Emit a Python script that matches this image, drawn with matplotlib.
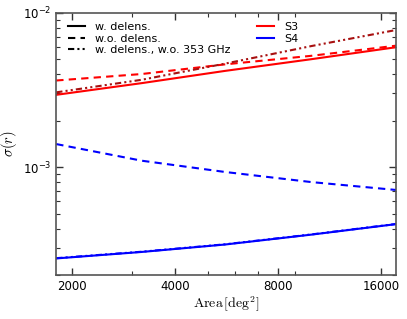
import matplotlib
matplotlib.use('Agg')
import matplotlib.pyplot as plt
from matplotlib.lines import Line2D
from matplotlib.ticker import FixedLocator, FixedFormatter, NullFormatter, LogLocator
import numpy as np

plt.rcParams['mathtext.fontset'] = 'dejavusans'
plt.rcParams['font.family'] = 'DejaVu Sans'

area = [1800, 3200, 5600, 10000, 17700]

s3_delens = [2.94e-3, 3.50e-3, 4.20e-3, 5.00e-3, 5.98e-3]
s3_nodelens = [3.64e-3, 4.01e-3, 4.63e-3, 5.26e-3, 6.12e-3]
s3_no353 = [3.05e-3, 3.68e-3, 4.68e-3, 6.08e-3, 7.73e-3]

s4_delens = [2.56e-4, 2.82e-4, 3.15e-4, 3.65e-4, 4.27e-4]
s4_nodelens = [1.41e-3, 1.10e-3, 9.30e-4, 8.00e-4, 7.11e-4]
s4_no353 = [2.57e-4, 2.83e-4, 3.16e-4, 3.66e-4, 4.28e-4]

xticks = [2000, 4000, 8000, 16000]
style_labels = ['w. delens.', 'w.o. delens.', 'w. delens., w.o. 353 GHz']
exp_labels = ['S3', 'S4']

dashed = (0, (3.5, 2.5))
dashdot = (0, (3.0, 1.5, 1, 1.5, 1, 1.5))
lw = 1.5

fig = plt.figure(figsize=(4.07, 3.19), dpi=100)
ax = fig.add_axes([0.1376, 0.138, 0.8354, 0.822])

ax.plot(area, s4_no353, color='blue', lw=lw, ls=dashdot)
ax.plot(area, s4_delens, color='blue', lw=lw, ls='-')
ax.plot(area, s4_nodelens, color='blue', lw=lw, ls=dashed)
ax.plot(area, s3_delens, color='red', lw=lw, ls='-')
ax.plot(area, s3_nodelens, color='red', lw=lw, ls=dashed)
ax.plot(area, s3_no353, color='#a81010', lw=lw, ls=dashdot)

ax.set_xscale('log')
ax.set_yscale('log')
ax.set_xlim(1797, 17700)
ax.set_ylim(2.0e-4, 1e-2)

ax.xaxis.set_major_locator(FixedLocator(xticks))
ax.xaxis.set_major_formatter(FixedFormatter([str(t) for t in xticks]))
ax.xaxis.set_minor_locator(LogLocator(base=10, subs=np.arange(2, 10) * 1.0))
ax.xaxis.set_minor_formatter(NullFormatter())
ax.yaxis.set_major_locator(FixedLocator([1e-3, 1e-2]))
ax.yaxis.set_major_formatter(FixedFormatter([r'$10^{-3}$', r'$10^{-2}$']))
ax.yaxis.set_minor_formatter(NullFormatter())

ax.tick_params(which='both', direction='in', top=True, right=True,
               labelsize=8.5, colors='#333333', labelcolor='black')
ax.tick_params(which='major', length=5, width=1)
ax.tick_params(which='minor', length=3, width=0.8)
for s in ax.spines.values():
    s.set_color('#555555')
    s.set_linewidth(1.2)

ax.set_xlabel(r'$\mathrm{Area}\,[\mathrm{deg}^2]$', fontsize=10, math_fontfamily='cm')
ax.set_ylabel(r'$\sigma(r)$', fontsize=10.5, math_fontfamily='cm')
ax.xaxis.set_label_coords(0.5, -0.075)
ax.yaxis.set_label_coords(-0.109, 0.5)

h1 = [Line2D([], [], color='black', lw=lw, ls='-'),
      Line2D([], [], color='black', lw=lw, ls=dashed),
      Line2D([], [], color='black', lw=lw, ls=dashdot)]
leg1 = ax.legend(h1, style_labels, loc='upper left', bbox_to_anchor=(0.035, 0.965),
                 frameon=False, fontsize=8, handlelength=1.55, handletextpad=0.9,
                 labelspacing=0.15, borderaxespad=0, borderpad=0)
ax.add_artist(leg1)
h2 = [Line2D([], [], color='red', lw=lw), Line2D([], [], color='blue', lw=lw)]
ax.legend(h2, exp_labels, loc='upper left', bbox_to_anchor=(0.591, 0.965), frameon=False,
          fontsize=8, handlelength=1.55, handletextpad=0.9,
          labelspacing=0.15, borderaxespad=0, borderpad=0)

fig.savefig('out.png', dpi=100)
